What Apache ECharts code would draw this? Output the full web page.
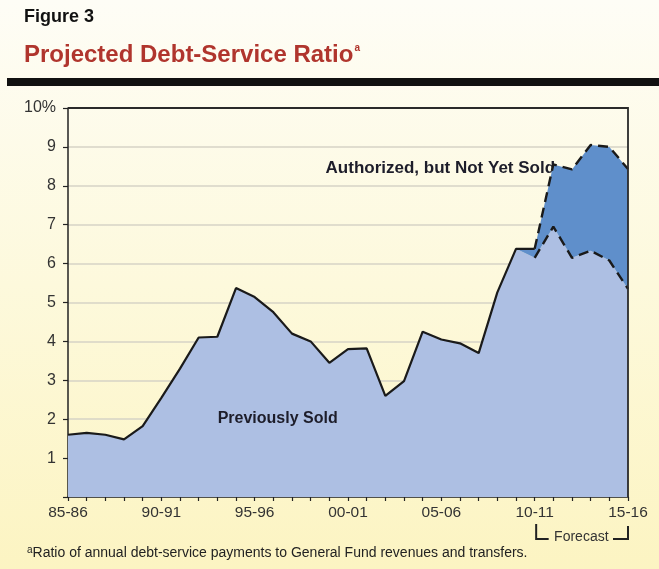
<!DOCTYPE html>
<html>
<head>
<meta charset="utf-8">
<script src="https://cdn.jsdelivr.net/npm/echarts@6/dist/echarts.min.js"></script>
<style>
html,body{margin:0;padding:0;}
#c{width:659px;height:569px;}
</style>
</head>
<body>
<div id="c"></div>
<script>
// ---- Data ----
const years = ['85-86','86-87','87-88','88-89','89-90','90-91','91-92','92-93','93-94','94-95',
  '95-96','96-97','97-98','98-99','99-00','00-01','01-02','02-03','03-04','04-05',
  '05-06','06-07','07-08','08-09','09-10','10-11','11-12','12-13','13-14','14-15','15-16'];
const previouslySold = [1.6,1.65,1.6,1.48,1.82,2.55,3.3,4.1,4.12,5.37,
  5.14,4.75,4.2,4.0,3.45,3.8,3.82,2.6,2.98,4.25,
  4.05,3.95,3.7,5.26,6.38,6.15,6.95,6.15,6.33,6.08,5.35];
// total (previously sold + authorized, not yet sold) for 09-10 onward
const totalYears = ['09-10','10-11','11-12','12-13','13-14','14-15','15-16'];
const totalDebt = [6.38,6.38,8.55,8.42,9.05,9.0,8.43];
const yTickLabels = ['', '1','2','3','4','5','6','7','8','9','10%'];
const labeledYears = ['85-86','90-91','95-96','00-01','05-06','10-11','15-16'];

// ---- Derived ----
const authorized = years.map(y => {
  const k = totalYears.indexOf(y);
  return k < 0 ? '-' : +(totalDebt[k] - previouslySold[years.indexOf(y)]).toFixed(3);
});
const forecastStart = years.indexOf('10-11');
const histLine = years.map((y, i) => {
  if (i < forecastStart) return previouslySold[i];
  if (i === forecastStart) return totalDebt[totalYears.indexOf(y)];
  return '-';
});
const lowerDash = years.map((y, i) => i >= forecastStart ? previouslySold[i] : '-');
const upperDash = years.map((y, i) => i >= forecastStart ? totalDebt[totalYears.indexOf(y)] : '-');

const chart = echarts.init(document.getElementById('c'));
const FONT = '"Liberation Sans", Arial, Helvetica, sans-serif';

const baseGraphic = [
  {type: 'text', left: 24, top: 8, style: {text: 'Figure 3', font: 'bold 18px ' + FONT, fill: '#111'}},
  {type: 'text', left: 24, top: 43, style: {
    text: '{t|Projected Debt-Service Ratio}{s|a}',
    rich: {t: {font: 'bold 24px ' + FONT, fill: '#b0352d'},
           s: {font: 'bold 10px ' + FONT, fill: '#b0352d', verticalAlign: 'top', padding: [0,0,14,1]}}
  }},
  {type: 'rect', shape: {x: 7, y: 78, width: 652, height: 8}, style: {fill: '#111'}},
  {type: 'text', left: 27, top: 545, style: {
    text: '{s|a}{t|Ratio of annual debt-service payments to General Fund revenues and transfers.}',
    rich: {s: {fontSize: 10, fill: '#222', padding: [0,0,7,0]}, t: {fontSize: 14, fill: '#222'}}
  }}
];

const option = {
  animation: false,
  backgroundColor: {
    type: 'linear', x: 0, y: 0, x2: 0, y2: 1,
    colorStops: [{offset: 0, color: '#fefdf6'}, {offset: 0.5, color: '#fdf9dc'}, {offset: 1, color: '#fcf4c2'}]
  },
  textStyle: {fontFamily: FONT},
  grid: {left: 68, right: 31, top: 108, bottom: 72},
  xAxis: {
    type: 'category', data: years, boundaryGap: false,
    axisLine: {lineStyle: {color: '#222', width: 1.5}},
    axisTick: {show: true, interval: 0, length: 4, lineStyle: {color: '#222', width: 1.2}},
    axisLabel: {
      interval: (i, v) => labeledYears.indexOf(v) >= 0,
      formatter: v => labeledYears.indexOf(v) >= 0 ? v : '',
      color: '#333', fontSize: 15.5, margin: 8, fontFamily: FONT
    },
    splitLine: {show: false}
  },
  yAxis: {
    type: 'value', min: 0, max: 10, interval: 1,
    axisLine: {show: true, lineStyle: {color: '#222', width: 1.5}},
    axisTick: {show: true, length: 5, lineStyle: {color: '#222', width: 1.2}},
    axisLabel: {formatter: v => yTickLabels[Math.round(v)], color: '#333', fontSize: 16, margin: 12, fontFamily: FONT},
    splitLine: {show: true, lineStyle: {color: '#d6d3c6', width: 1.5}}
  },
  graphic: baseGraphic,
  series: [
    {type: 'line', name: 'Previously Sold', stack: 'debt', data: previouslySold, symbol: 'none',
     lineStyle: {width: 0}, areaStyle: {color: '#adbfe3', opacity: 1}, z: 3},
    {type: 'line', name: 'Authorized, but Not Yet Sold', stack: 'debt', data: authorized, symbol: 'none',
     lineStyle: {width: 0}, areaStyle: {color: '#5f8fcb', opacity: 1}, z: 3},
    {type: 'line', data: histLine, symbol: 'none', lineStyle: {color: '#1a1a1a', width: 2.2}, z: 5},
    {type: 'line', data: lowerDash, symbol: 'none', lineStyle: {color: '#1a1a1a', width: 2.4, type: [10, 6]}, z: 5},
    {type: 'line', data: upperDash, symbol: 'none', lineStyle: {color: '#1a1a1a', width: 2.4, type: [10, 6]}, z: 5}
  ]
};
chart.setOption(option);

// Annotations positioned from the axes
const p0 = chart.convertToPixel({gridIndex: 0}, ['85-86', 0]);
const pTop = chart.convertToPixel({gridIndex: 0}, ['15-16', 10]);
const labelPrev = chart.convertToPixel({gridIndex: 0}, ['95-96', 2]);
const labelAuth = chart.convertToPixel({gridIndex: 0}, ['05-06', 8]);
const xa = chart.convertToPixel({gridIndex: 0}, ['10-11', 0]);
const xb = chart.convertToPixel({gridIndex: 0}, ['15-16', 0]);
const by = p0[1] + 42;
chart.setOption({graphic: baseGraphic.concat([
  {type: 'polyline', z: 20, shape: {points: [[p0[0], pTop[1]], [pTop[0], pTop[1]], [pTop[0], p0[1]]]}, style: {stroke: '#2a2a2a', lineWidth: 1.8, fill: null}},
  {type: 'text', x: labelPrev[0] + 23, y: labelPrev[1] - 1, z: 10, style: {text: 'Previously Sold', font: 'bold 16px ' + FONT, fill: '#1d1d2a', align: 'center', verticalAlign: 'middle'}},
  {type: 'text', x: labelAuth[0] - 1, y: labelAuth[1] - 17, z: 0, style: {text: 'Authorized, but Not Yet Sold', font: 'bold 17px ' + FONT, fill: '#1d1d2a', align: 'center', verticalAlign: 'middle'}},
  {type: 'polyline', shape: {points: [[xa[0] + 1.5, by - 15], [xa[0] + 1.5, by], [xa[0] + 14, by]]}, style: {stroke: '#222', lineWidth: 2, fill: null}},
  {type: 'polyline', shape: {points: [[xb[0] - 15, by], [xb[0], by], [xb[0], by - 13]]}, style: {stroke: '#222', lineWidth: 2, fill: null}},
  {type: 'text', x: (xa[0] + xb[0]) / 2, y: by - 2, style: {text: 'Forecast', font: '14px ' + FONT, fill: '#333', align: 'center', verticalAlign: 'middle'}}
])});
</script>
</body>
</html>
